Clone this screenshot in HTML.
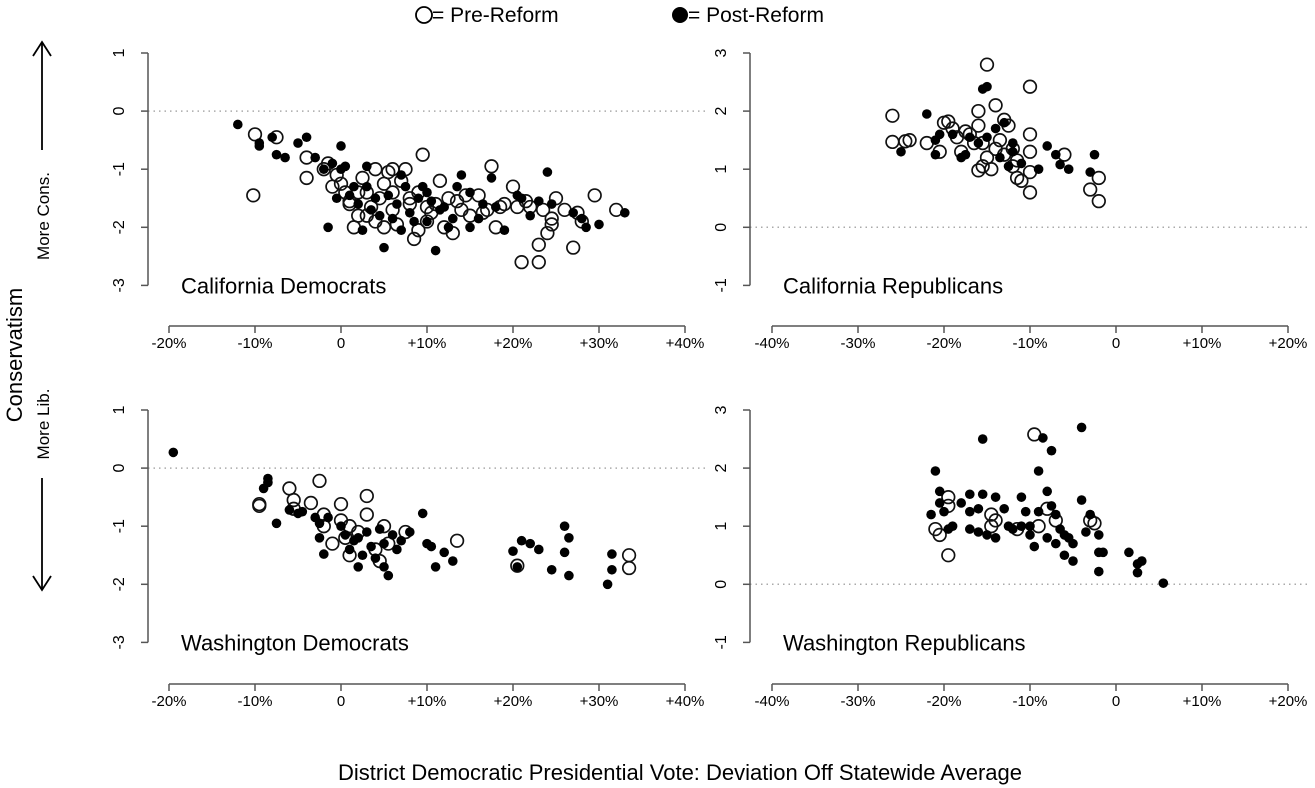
<!DOCTYPE html>
<html><head><meta charset="utf-8"><style>
html,body{margin:0;padding:0;background:#fff;}
svg{display:block;font-family:"Liberation Sans",Arial,sans-serif;}
</style></head><body>
<svg id="chart" width="1315" height="788" viewBox="0 0 1315 788" xmlns="http://www.w3.org/2000/svg">
<g>
 <circle cx="424" cy="15" r="8" fill="none" stroke="#000" stroke-width="1.8"/>
 <text x="432" y="22" font-size="21">= Pre-Reform</text>
 <circle cx="680" cy="15" r="8" fill="#000"/>
 <text x="688" y="22" font-size="21">= Post-Reform</text>
</g>
<g>
 <line x1="42" y1="42" x2="42" y2="150" stroke="#000" stroke-width="1.8"/>
 <polyline points="33,56 42,42 51,56" fill="none" stroke="#000" stroke-width="1.8"/>
 <line x1="42" y1="478" x2="42" y2="590" stroke="#000" stroke-width="1.8"/>
 <polyline points="33,576 42,590 51,576" fill="none" stroke="#000" stroke-width="1.8"/>
 <text transform="translate(22,355) rotate(-90)" text-anchor="middle" font-size="22">Conservatism</text>
 <text transform="translate(49,216) rotate(-90)" text-anchor="middle" font-size="17">More Cons.</text>
 <text transform="translate(49,424) rotate(-90)" text-anchor="middle" font-size="17">More Lib.</text>
</g>
<text x="680" y="780" text-anchor="middle" font-size="22">District Democratic Presidential Vote: Deviation Off Statewide Average</text>
</svg>
<script>
// Data arrays: [x percent, y conservatism]
const caDemPre = [[-10,-0.4],[-7.5,-0.45],[-10.2,-1.45],[-4,-0.8],[-4,-1.15],[-2,-1.0],[-1.5,-0.9],[-1,-1.3],[0,-1.25],[0.5,-1.4],[1,-1.55],[1.5,-2.0],[2,-1.8],[2.5,-1.15],[3,-1.4],[4,-1.0],[4.5,-1.5],[5,-2.0],[5.5,-1.05],[6,-1.7],[7,-1.2],[8,-1.6],[8.5,-2.2],[9,-1.4],[9.5,-0.75],[10,-1.9],[10.5,-1.75],[11,-1.6],[12,-2.0],[12.5,-1.5],[13,-2.1],[14,-1.7],[15,-1.8],[16,-1.45],[16.5,-1.75],[17.5,-0.95],[18,-2.0],[17,-1.7],[19,-1.6],[20,-1.3],[20.5,-1.65],[21,-2.6],[22,-1.65],[23,-2.3],[23.5,-1.7],[24,-2.1],[24.5,-1.85],[25,-1.5],[23,-2.6],[26,-1.7],[27,-2.35],[27.5,-1.75],[29.5,-1.45],[32,-1.7],[3,-1.8],[6,-1.4],[7.5,-1.0],[1,-1.6],[11.5,-1.2],[5,-1.25],[13.5,-1.55],[8,-1.5],[2,-1.4],[-0.5,-1.1],[4,-1.9],[6.5,-1.95],[9,-2.05],[10,-1.65],[14.5,-1.45],[18.5,-1.65],[21.5,-1.55],[24.5,-1.95],[28,-1.9],[6,-1.0],[3.5,-1.65]];
const caDemPost = [[-12,-0.23],[-9.5,-0.6],[-9.5,-0.55],[-8,-0.45],[-7.5,-0.75],[-6.5,-0.8],[-5,-0.55],[-4,-0.45],[-3,-0.8],[-2,-1.0],[-1.5,-2.0],[-1,-0.9],[0,-0.6],[0,-1.0],[0.5,-0.95],[1,-1.45],[1.5,-1.3],[2,-1.6],[2.5,-2.05],[3,-0.95],[3.5,-1.7],[4,-1.5],[5,-2.35],[5.5,-1.45],[6,-1.85],[7,-1.1],[7.5,-1.3],[8,-1.75],[9,-1.5],[10,-1.9],[10.5,-1.55],[11,-2.4],[12,-1.65],[13,-1.85],[14,-1.1],[15,-1.4],[16,-1.85],[17.5,-1.15],[19,-2.05],[20.5,-1.45],[21,-1.5],[23,-1.55],[24,-1.05],[24.5,-1.6],[27,-1.75],[28,-1.85],[28.5,-2.0],[30,-1.95],[33,-1.75],[6.5,-1.6],[8.5,-1.9],[12.5,-2.0],[15,-2.0],[3,-1.3],[9.5,-1.3],[11.5,-1.7],[4.5,-1.8],[13.5,-1.3],[16.5,-1.6],[-0.5,-1.5],[7,-2.05],[10,-1.4],[18,-1.65],[22,-1.8]];
const caRepPre = [[-26,1.92],[-26,1.47],[-24.5,1.48],[-24,1.5],[-22,1.45],[-20,1.8],[-19.5,1.82],[-19,1.7],[-20.5,1.3],[-18,1.3],[-17.5,1.65],[-16,2.0],[-16,1.75],[-15.5,1.45],[-15,2.8],[-15,1.2],[-14.5,1.0],[-16,0.98],[-14,2.1],[-13.5,1.5],[-13,1.85],[-12.5,1.75],[-12,1.35],[-11.5,1.15],[-11.5,0.85],[-11,0.8],[-10,2.42],[-10,1.6],[-10,1.3],[-10,0.95],[-10,0.6],[-6,1.25],[-3,0.65],[-2,0.85],[-2,0.45],[-17,1.6],[-15.5,1.05],[-13,1.25],[-12,1.05],[-16.5,1.45],[-18.5,1.55],[-14,1.35]];
const caRepPost = [[-25,1.3],[-22,1.95],[-21,1.5],[-21,1.25],[-20.5,1.6],[-19,1.6],[-18,1.2],[-17,1.55],[-16,1.45],[-15.5,2.38],[-15,2.42],[-14,1.7],[-13,1.8],[-13.5,1.2],[-12.5,1.05],[-12,1.45],[-11,1.1],[-9,1.0],[-8,1.4],[-7,1.25],[-6.5,1.08],[-5.5,1.0],[-2.5,1.25],[-3,0.95],[-15,1.55],[-17.5,1.25],[-12,1.3]];
const waDemPre = [[-9.5,-0.62],[-9.5,-0.65],[-6,-0.35],[-5.5,-0.55],[-5.5,-0.7],[-3.5,-0.6],[-2.5,-0.22],[-2,-0.8],[-2,-1.0],[0,-0.62],[0,-0.9],[0.5,-1.2],[1,-1.5],[2,-1.1],[3,-0.48],[3,-0.8],[4,-1.4],[4.5,-1.6],[5,-1.0],[5.5,-1.3],[7.5,-1.1],[13.5,-1.25],[20.5,-1.68],[33.5,-1.5],[33.5,-1.72],[-1,-1.3],[1,-1.0]];
const waDemPost = [[-19.5,0.27],[-8.5,-0.18],[-8.5,-0.25],[-9,-0.35],[-7.5,-0.95],[-6,-0.72],[-5,-0.78],[-4.5,-0.75],[-3,-0.85],[-2.5,-0.95],[-2.5,-1.2],[-2,-1.48],[-1.5,-0.85],[0,-1.0],[0.5,-1.15],[1,-1.4],[1.5,-1.25],[2,-1.2],[2.5,-1.5],[3,-1.1],[3.5,-1.35],[4,-1.55],[5,-1.3],[5,-1.7],[5.5,-1.85],[6,-1.15],[6.5,-1.4],[7,-1.25],[8,-1.1],[9.5,-0.78],[10,-1.3],[10.5,-1.35],[11,-1.7],[12,-1.45],[13,-1.6],[20,-1.43],[20.5,-1.7],[21,-1.25],[22,-1.3],[23,-1.4],[24.5,-1.75],[26,-1.0],[26.5,-1.2],[26.5,-1.85],[26,-1.45],[31,-2.0],[31.5,-1.48],[31.5,-1.75],[4.5,-1.05],[2,-1.7]];
const waRepPre = [[-19.5,1.5],[-19.5,1.35],[-19.5,0.5],[-21,0.95],[-20.5,0.85],[-14.5,1.2],[-14,1.1],[-11.5,0.95],[-9.5,2.58],[-9,1.0],[-8,1.3],[-7,1.1],[-3,1.1],[-2.5,1.05],[-14.5,1.0]];
const waRepPost = [[-21.5,1.2],[-21,1.95],[-20.5,1.6],[-20.5,1.4],[-20,1.25],[-19.5,0.95],[-19,1.0],[-17,1.55],[-17,1.25],[-17,0.95],[-16,0.9],[-16,1.3],[-15.5,2.5],[-15.5,1.55],[-15,0.85],[-14,1.5],[-14,0.8],[-13,1.3],[-12.5,1.0],[-12,0.95],[-11,1.0],[-10.5,1.25],[-10,1.0],[-10,0.85],[-9,1.95],[-9,1.25],[-8.5,2.52],[-8,0.8],[-8,1.6],[-7.5,2.3],[-7.5,1.35],[-7,1.2],[-7,0.7],[-6.5,0.95],[-6,0.85],[-6,0.5],[-5.5,0.8],[-5,0.7],[-4,2.7],[-4,1.45],[-3.5,0.9],[-3,1.2],[-2,0.85],[-2,0.55],[-2,0.22],[-1.5,0.55],[1.5,0.55],[2.5,0.35],[2.5,0.2],[3,0.4],[5.5,0.02],[-18,1.4],[-9.5,0.65],[-11,1.5],[-5,0.4]];
const demXTicks = [-20,-10,0,10,20,30,40];
const repXTicks = [-40,-30,-20,-10,0,10,20];
const demYTicks = [1,0,-1,-2,-3];
const repYTicks = [3,2,1,0,-1];
const panelTitles = ["California Democrats","California Republicans","Washington Democrats","Washington Republicans"];

const NS = "http://www.w3.org/2000/svg";
const svg = document.getElementById('chart');
function mk(tag, attrs, parent){
  const e = document.createElementNS(NS, tag);
  for (const k in attrs) e.setAttribute(k, attrs[k]);
  (parent||svg).appendChild(e);
  return e;
}
function fmt(t){ return t===0 ? "0" : (t>0 ? "+"+t+"%" : t+"%"); }

function panel(cfg){
  const g = mk('g', {});
  
  
  const xs = v => cfg.x0 + (v - cfg.xt[0]) * 8.6;
  const ys = v => cfg.y0 - (v - cfg.yt[0]) * 58.1;
  const yTop = ys(cfg.yt[0]), yBot = ys(cfg.yt[cfg.yt.length-1]);
  const zl = mk('line', {x1: cfg.ax, x2: cfg.ax + 558, y1: ys(0), y2: ys(0), stroke:'#aaa', 'stroke-width':1.5, 'stroke-dasharray':'1.5 4'}, g);
  
  
  const ya = mk('g', {}, g);
  
  
  mk('line', {x1: cfg.ax, x2: cfg.ax, y1: yTop, y2: yBot, stroke:'#555', 'stroke-width':1.5}, ya);
  cfg.yt.forEach(t => {
    mk('line', {x1: cfg.ax-7, x2: cfg.ax, y1: ys(t), y2: ys(t), stroke:'#555', 'stroke-width':1.5}, ya);
    const tx = mk('text', {transform:`translate(${cfg.ax-24},${ys(t)}) rotate(-90)`, 'text-anchor':'middle', 'font-size':16}, ya);
    tx.textContent = String(t);
    
    
  });
  const xa = mk('g', {}, g);
  
  
  const axY = cfg.axY;
  mk('line', {x1: xs(cfg.xt[0]), x2: xs(cfg.xt[cfg.xt.length-1]), y1: axY, y2: axY, stroke:'#555', 'stroke-width':1.5}, xa);
  cfg.xt.forEach(t => {
    mk('line', {x1: xs(t), x2: xs(t), y1: axY, y2: axY+7, stroke:'#555', 'stroke-width':1.5}, xa);
    const tx = mk('text', {x: xs(t), y: axY+22, 'text-anchor':'middle', 'font-size':15}, xa);
    tx.textContent = fmt(t);
    
    
  });
  const tt = mk('text', {x: cfg.ax+33, y: yBot+8, 'font-size':22}, g);
  tt.textContent = cfg.title;
  
  
  cfg.pre.forEach(p => {
    const c = mk('circle', {cx: xs(p[0]), cy: ys(p[1]), r: 6.3, fill:'none', stroke:'#111', 'stroke-width':1.7}, g);
    
    
  });
  cfg.post.forEach(p => {
    const c = mk('circle', {cx: xs(p[0]), cy: ys(p[1]), r: 4.8, fill:'#000'}, g);
    
    
  });
}
panel({name:'california-democrats-panel', title:panelTitles[0], x0:169, ax:148, y0:53, axY:326, xt:demXTicks, yt:demYTicks, pre:caDemPre, post:caDemPost});
panel({name:'california-republicans-panel', title:panelTitles[1], x0:772, ax:750, y0:53, axY:326, xt:repXTicks, yt:repYTicks, pre:caRepPre, post:caRepPost});
panel({name:'washington-democrats-panel', title:panelTitles[2], x0:169, ax:148, y0:410, axY:684, xt:demXTicks, yt:demYTicks, pre:waDemPre, post:waDemPost});
panel({name:'washington-republicans-panel', title:panelTitles[3], x0:772, ax:750, y0:410, axY:684, xt:repXTicks, yt:repYTicks, pre:waRepPre, post:waRepPost});
</script>
</body></html>
